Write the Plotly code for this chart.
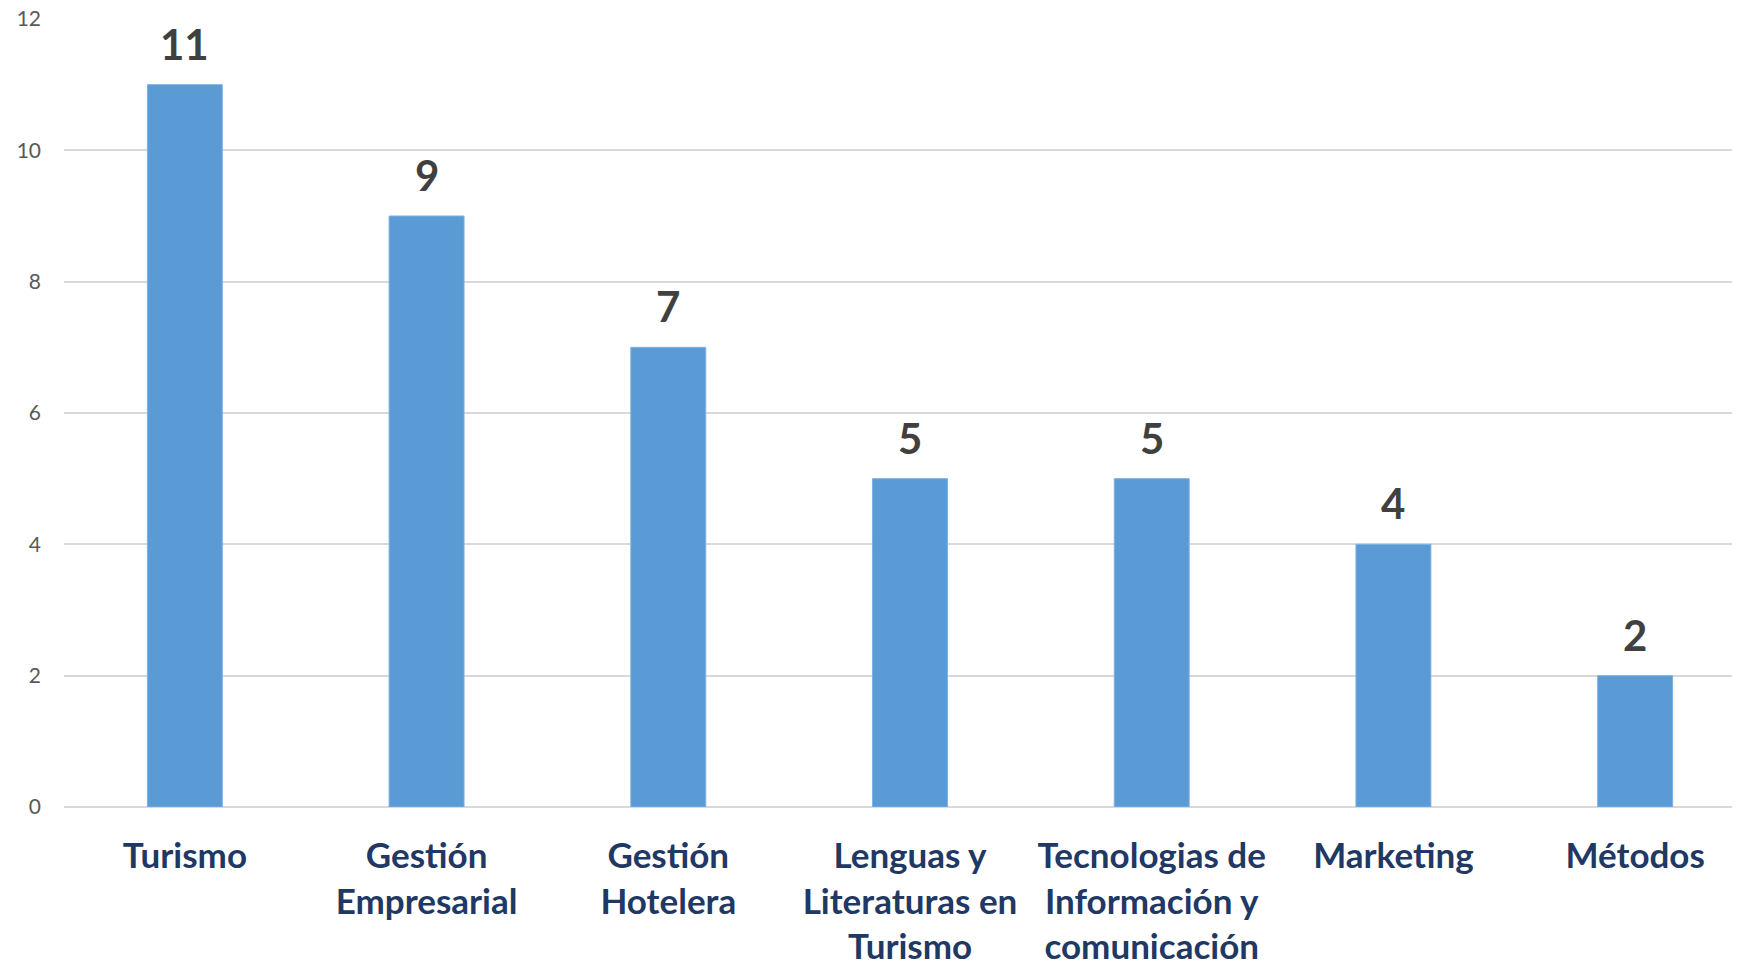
import plotly.graph_objects as go

categories = ["Turismo", "Gestión<br>Empresarial", "Gestión<br>Hotelera",
              "Lenguas y<br>Literaturas en<br>Turismo",
              "Tecnologias de<br>Información y<br>comunicación",
              "Marketing", "Métodos"]
values = [11, 9, 7, 5, 5, 4, 2]
y_ticks = [0, 2, 4, 6, 8, 10, 12]

fig = go.Figure()
fig.add_trace(go.Bar(
    x=categories, y=values,
    marker=dict(color="#5B9BD5", line=dict(color="#7EB0E2", width=1)),
    width=0.31,
    hoverinfo="skip",
))

for c, v in zip(categories, values):
    fig.add_annotation(x=c, y=v, text=f"<b>{v}</b>", showarrow=False,
                       yanchor="bottom", yshift=14,
                       font=dict(family="Lato", size=42, color="#404040"))

# page body has an 8px default margin; the plot area runs past the right edge like the reference
fig.update_layout(
    width=1748, height=954,
    margin=dict(l=56, r=0, t=11, b=155),
    paper_bgcolor="white", plot_bgcolor="white",
    showlegend=False,
    bargap=0.69,
)
fig.update_xaxes(
    type="category", automargin=False,
    tickfont=dict(family="Lato", size=35, color="#1F3864", weight="bold"),
    showgrid=False, showline=False, zeroline=False,
    ticks="", ticklabelstandoff=25, ticklabeloverflow="allow",
)
fig.update_yaxes(
    range=[0, 12], tickvals=y_ticks, automargin=False,
    tickfont=dict(family="Lato", size=21, color="#595959"),
    showgrid=True, gridcolor="#D9D9D9", gridwidth=1.5,
    zeroline=True, zerolinecolor="#D9D9D9", zerolinewidth=1.5,
    showline=False, ticks="", ticklabelstandoff=22, ticklabeloverflow="allow",
)
fig.write_html("out.html")
